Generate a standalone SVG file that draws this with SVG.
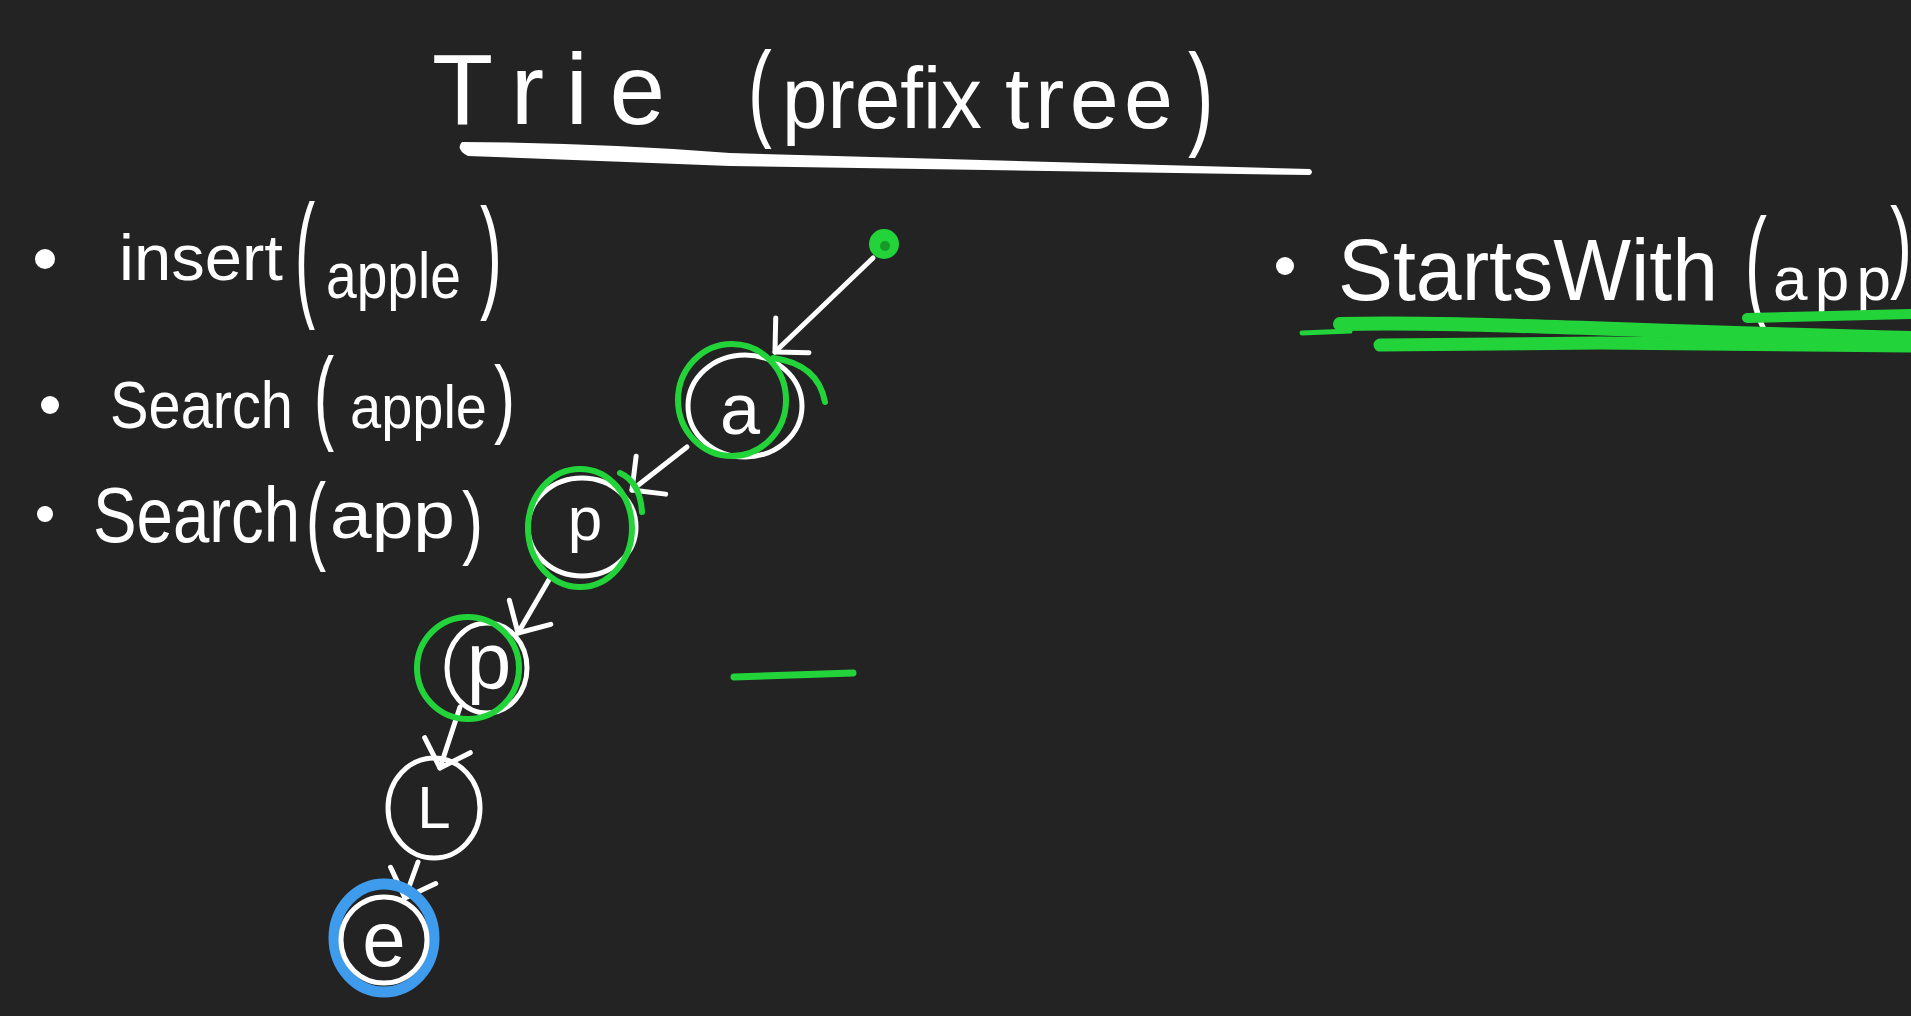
<svg xmlns="http://www.w3.org/2000/svg" width="1911" height="1016" viewBox="0 0 1911 1016">
<style>
.bg{fill:#232323}
.t{font-family:"Liberation Sans","DejaVu Sans",sans-serif;fill:#ffffff}
.w{fill:none;stroke:#ffffff;stroke-width:5;stroke-linecap:round;stroke-linejoin:round}
.g{fill:none;stroke:#22d43a;stroke-width:6;stroke-linecap:round;stroke-linejoin:round}
.b{fill:none;stroke:#3f9cec;stroke-width:11}
.dot{fill:#ffffff}
.edge{fill:none;stroke:#ffffff;stroke-width:5;stroke-linecap:round;marker-end:url(#arrow)}
.hl{fill:none;stroke:#22d43a;stroke-linecap:round}
</style>
<defs>
<marker id="arrow" viewBox="0 0 40 50" refX="36" refY="25" markerWidth="40" markerHeight="50" markerUnits="userSpaceOnUse" orient="auto" overflow="visible">
<path d="M12,1 L36,25 L12,49" fill="none" stroke="#ffffff" stroke-width="5" stroke-linecap="round" stroke-linejoin="round"/>
</marker>
</defs>
<rect class="bg" x="0" y="0" width="1911" height="1016"/>

<g id="title">
<text class="t" x="432" y="124" font-size="100" textLength="233" lengthAdjust="spacing">Trie</text>
<text class="t" transform="translate(748,127) scale(1.3,1.97)" font-size="55">(</text>
<text class="t" x="782" y="128" font-size="88" textLength="200" lengthAdjust="spacingAndGlyphs">prefix</text>
<text class="t" x="1005" y="128" font-size="88" textLength="168" lengthAdjust="spacing">tree</text>
<text class="t" transform="translate(1188,134) scale(1.4,2.1)" font-size="55">)</text>
<path d="M462 142 Q600 143 730 153 L1310 169 Q1314 172 1310 175 L730 166 Q600 161 468 156 Q455 149 462 142 Z" fill="#ffffff"/>
</g>

<g id="op-insert">
<circle class="dot" cx="45" cy="259" r="10"/>
<text class="t" x="119" y="280" font-size="64" textLength="164" lengthAdjust="spacingAndGlyphs">insert</text>
<text class="t" transform="translate(295,301) scale(1.1,2.51)" font-size="55">(</text>
<text class="t" x="326" y="298" font-size="64" textLength="135" lengthAdjust="spacingAndGlyphs">apple</text>
<text class="t" transform="translate(480,295) scale(1.2,2.26)" font-size="55">)</text>
</g>

<g id="op-search-apple">
<circle class="dot" cx="50" cy="405" r="9"/>
<text class="t" x="110" y="428" font-size="66" textLength="183" lengthAdjust="spacingAndGlyphs">Search</text>
<text class="t" transform="translate(314,430) scale(1.1,1.88)" font-size="55">(</text>
<text class="t" x="350" y="428" font-size="62" textLength="137" lengthAdjust="spacingAndGlyphs">apple</text>
<text class="t" transform="translate(494,427) scale(1.15,1.6)" font-size="55">)</text>
</g>

<g id="op-search-app">
<circle class="dot" cx="45" cy="514" r="8"/>
<text class="t" x="93" y="542" font-size="78" textLength="207" lengthAdjust="spacingAndGlyphs">Search</text>
<text class="t" transform="translate(306,552) scale(1.1,1.8)" font-size="55">(</text>
<text class="t" x="330" y="538" font-size="66" textLength="125" lengthAdjust="spacingAndGlyphs">app</text>
<text class="t" transform="translate(462,549) scale(1.15,1.47)" font-size="55">)</text>
</g>

<g id="op-startswith">
<circle class="dot" cx="1285" cy="266" r="9"/>
<text class="t" x="1338" y="300" font-size="88" textLength="380" lengthAdjust="spacingAndGlyphs">StartsWith</text>
<text class="t" transform="translate(1745,304) scale(1.2,2.22)" font-size="55">(</text>
<text class="t" x="1773" y="300" font-size="62" textLength="118" lengthAdjust="spacing">app</text>
<text class="t" transform="translate(1890,279) scale(1.2,1.84)" font-size="55">)</text>
<g id="startswith-highlight">
<path class="hl" d="M1302 333 L1350 331" stroke-width="5"/>
<path class="hl" d="M1340 324 C1450 321 1600 330 1911 338" stroke-width="14"/>
<path class="hl" d="M1380 345 L1600 343 L1911 346" stroke-width="13"/>
<path class="hl" d="M1747 318 L1911 314" stroke-width="10"/>
</g>
</g>

<g id="edges">
<line class="edge" x1="873" y1="258" x2="775" y2="352"/>
<line class="edge" x1="687" y1="447" x2="632" y2="490"/>
<line class="edge" x1="550" y1="578" x2="518" y2="633"/>
<line class="edge" x1="460" y1="707" x2="440" y2="768"/>
<line class="edge" x1="418" y1="862" x2="405" y2="898"/>
</g>

<g id="node-root">
<circle cx="884" cy="244" r="15" fill="#22d43a"/>
<circle cx="885" cy="246" r="5" fill="#179a27"/>
</g>

<g id="node-a">
<ellipse class="w" cx="745" cy="406" rx="57" ry="51"/>
<ellipse class="g" cx="732" cy="400" rx="54" ry="56"/>
<path class="g" d="M773 358 Q818 364 825 402"/>
<text class="t" x="740" y="434" font-size="72" text-anchor="middle">a</text>
</g>

<g id="node-p1">
<ellipse class="w" cx="582" cy="527" rx="54" ry="49"/>
<ellipse class="g" cx="580" cy="528" rx="52" ry="59"/>
<path class="g" d="M620 473 Q640 482 642 512"/>
<text class="t" x="585" y="540" font-size="62" text-anchor="middle">p</text>
</g>

<g id="node-p2">
<ellipse class="w" cx="487" cy="668" rx="40" ry="45"/>
<ellipse class="g" cx="468" cy="668" rx="51" ry="51"/>
<text class="t" x="489" y="688" font-size="80" text-anchor="middle">p</text>
</g>

<g id="node-l">
<ellipse class="w" cx="434" cy="808" rx="46" ry="50"/>
<text class="t" x="434" y="828" font-size="60" text-anchor="middle">L</text>
</g>

<g id="node-e">
<ellipse class="b" cx="384" cy="938" rx="50" ry="54"/>
<ellipse class="w" cx="384" cy="940" rx="43" ry="43"/>
<text class="t" x="384" y="966" font-size="78" text-anchor="middle">e</text>
</g>

<path d="M734 677 L853 673" fill="none" stroke="#22d43a" stroke-width="7" stroke-linecap="round"/>
</svg>
